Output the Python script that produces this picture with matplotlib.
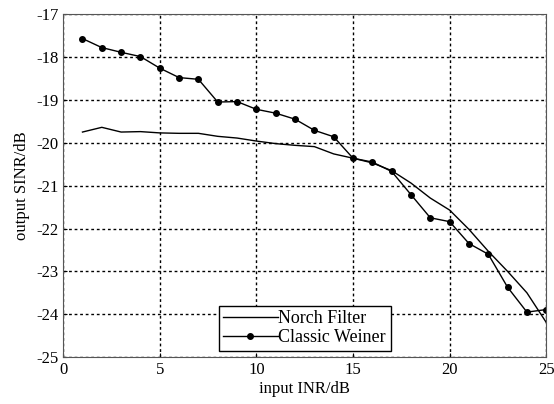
import matplotlib
matplotlib.use('Agg')
import matplotlib.pyplot as plt

# values
inr = list(range(1, 26))
norch = [-19.75, -19.64, -19.75, -19.74, -19.77, -19.78, -19.78, -19.85, -19.89, -19.96,
         -20.02, -20.06, -20.09, -20.26, -20.36, -20.47, -20.65, -20.94, -21.29, -21.57,
         -22.02, -22.53, -23.0, -23.5, -24.19]
weiner = [-17.57, -17.78, -17.89, -17.99, -18.26, -18.48, -18.52, -19.05, -19.04, -19.22,
          -19.31, -19.45, -19.71, -19.86, -20.36, -20.45, -20.67, -21.21, -21.75, -21.84,
          -22.35, -22.60, -23.37, -23.95, -23.89]
xticks = [0, 5, 10, 15, 20, 25]
yticks = [-25, -24, -23, -22, -21, -20, -19, -18, -17]

plt.rcParams['font.family'] = 'Liberation Serif'
plt.rcParams['font.size'] = 12
plt.rcParams['axes.unicode_minus'] = False

fig = plt.figure(figsize=(5.54, 4.04), dpi=100)
ax = fig.add_axes([0.114, 0.116, 0.872, 0.849])

ax.plot(inr, norch, color='black', linewidth=1.0, label='Norch Filter')
ax.plot(inr, weiner, color='black', linewidth=1.0, marker='o', markersize=4,
        label='Classic Weiner')

ax.set_xlim(0, 25)
ax.set_ylim(-25, -17)
ax.set_xticks(xticks)
ax.set_yticks(yticks)
ax.tick_params(direction='in', length=3, colors='black')
ax.grid(True, color='black', linestyle=(0, (2, 2)), linewidth=1.0)
for s in ax.spines.values():
    s.set_color('#555555')

ax.set_xlabel('input INR/dB', labelpad=2)
ax.set_ylabel('output SINR/dB', labelpad=4)

leg = ax.legend(loc='lower center', bbox_to_anchor=(0.5, 0.0), fancybox=False,
                edgecolor='black', framealpha=1, borderpad=0.25, labelspacing=0.1,
                handlelength=3.0, handletextpad=0.05, borderaxespad=0.35,
                prop={'size': 13})
leg.get_frame().set_linewidth(1.0)

fig.savefig('out.png', dpi=100)
